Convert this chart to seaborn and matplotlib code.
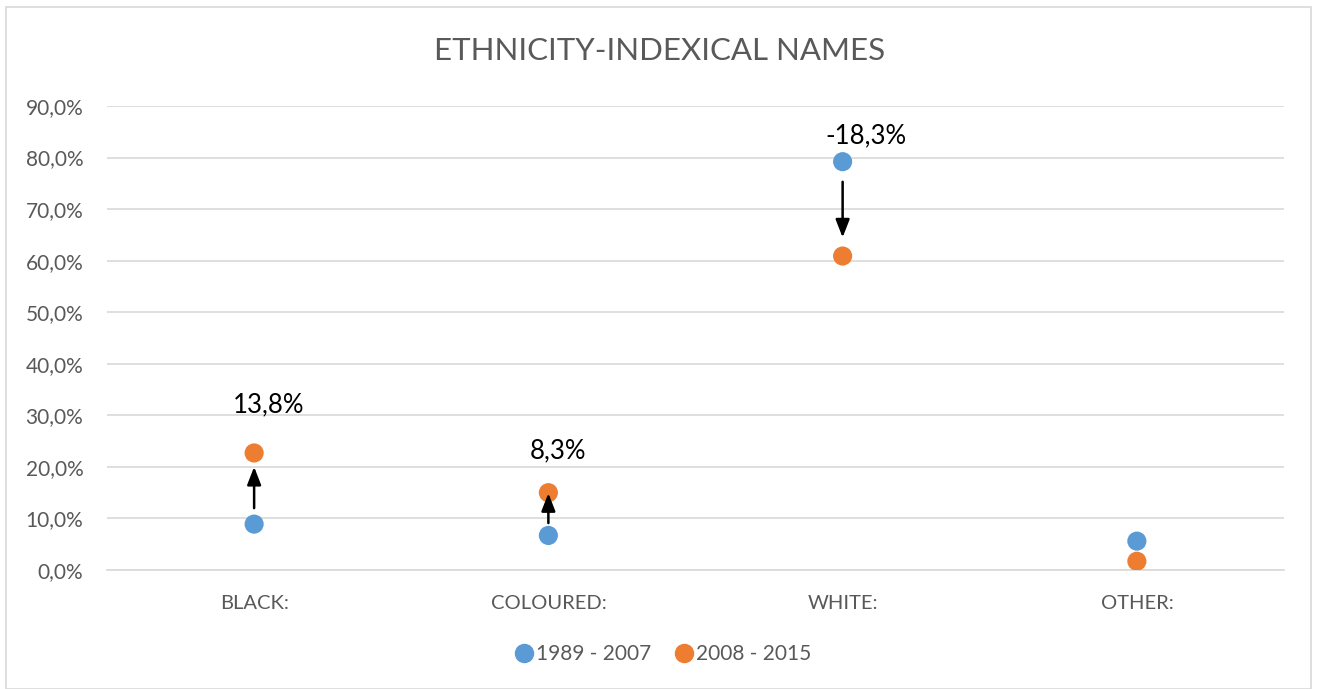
import matplotlib
matplotlib.use("Agg")
import matplotlib.pyplot as plt
import matplotlib.patches as mpatches
from matplotlib.lines import Line2D
import seaborn as sns
import pandas as pd

categories = ["BLACK:", "COLOURED:", "WHITE:", "OTHER:"]
period1_label = "1989 - 2007"
period2_label = "2008 - 2015"
period1 = [8.9, 6.7, 79.2, 5.6]
period2 = [22.7, 15.0, 60.9, 1.7]
change_labels = ["13,8%", "8,3%", "-18,3%", None]
yticks = [0, 10, 20, 30, 40, 50, 60, 70, 80, 90]

# styling: gaps between dots and arrow ends (axis units), label offsets (axis units / pixels)
arrow_gaps = [(3.1, 2.7), (2.4, 0.1), (3.9, 3.6), None]
label_offsets = [7.9, 6.7, 3.6, None]
label_dx_px = [14, 10, 23, None]

BLUE = "#5B9BD5"
ORANGE = "#ED7D31"
GREY = "#595959"

sns.set_theme(style="white")
plt.rcParams["font.family"] = ["Lato", "DejaVu Sans"]

df = pd.DataFrame({
    "cat": categories * 2,
    "value": period1 + period2,
    "period": [period1_label] * 4 + [period2_label] * 4,
})
df["x"] = df["cat"].map({c: i for i, c in enumerate(categories)})

fig = plt.figure(figsize=(13.17, 6.89), dpi=100)
ax = fig.add_axes([107 / 1317, 1 - 570 / 689, (1284 - 107) / 1317, (570 - 106) / 689])

sns.scatterplot(data=df, x="x", y="value", hue="period",
                palette={period1_label: BLUE, period2_label: ORANGE},
                s=190, edgecolor="none", ax=ax, legend=False, zorder=3)

ax.set_xlim(-0.5, 3.5)
ax.set_ylim(0, 90)
ax.set_yticks(yticks)
ax.set_yticklabels([f"{v:.1f}%".replace(".", ",") for v in yticks], color=GREY, fontsize=15)
ax.set_xticks(range(len(categories)))
ax.set_xticklabels(categories, color=GREY, fontsize=14.5)
ax.tick_params(axis="x", pad=18, length=0)
ax.tick_params(axis="y", pad=17, length=0)
ax.grid(axis="y", color="#D9D9D9", linewidth=1.2)
ax.set_axisbelow(True)
for side in ["top", "right", "left"]:
    ax.spines[side].set_visible(False)
ax.spines["bottom"].set_color("#D9D9D9")
ax.spines["bottom"].set_linewidth(1.2)
ax.set_xlabel("")
ax.set_ylabel("")

arrowprops = dict(arrowstyle="-|>,head_length=0.9,head_width=0.35",
                  color="black", lw=1.8, shrinkA=0, shrinkB=0)
for i, (a, b, lab, gap, off, dx) in enumerate(zip(period1, period2, change_labels,
                                                   arrow_gaps, label_offsets, label_dx_px)):
    if lab is None:
        continue
    if b > a:
        tail, head = a + gap[0], b - gap[1]
        ly = b + off
    else:
        tail, head = a - gap[0], b + gap[1]
        ly = a + off
    ax.annotate("", xy=(i, head), xytext=(i, tail), arrowprops=arrowprops, zorder=4)
    ax.annotate(lab, xy=(i, ly), xytext=(dx * 0.72, 0), textcoords="offset points",
                ha="center", va="baseline", fontsize=18.5, color="black")

fig.text(660 / 1317, 1 - 51 / 689, "ETHNICITY-INDEXICAL NAMES", ha="center", va="center",
         fontsize=22.5, color=GREY)

handles = [Line2D([], [], marker="o", linestyle="", markersize=13, color=BLUE, label=period1_label),
           Line2D([], [], marker="o", linestyle="", markersize=13, color=ORANGE, label=period2_label)]
fig.legend(handles=handles, loc="center", bbox_to_anchor=(657 / 1317, 1 - 654 / 689), ncol=2,
           frameon=False, fontsize=15, handletextpad=-0.4, columnspacing=0.55, labelcolor=GREY)

fig.patches.append(mpatches.Rectangle((6 / 1317, 0), 1305 / 1317, 1 - 7 / 689, transform=fig.transFigure,
                                      fill=False, edgecolor="#D9D9D9", linewidth=1.2))

fig.savefig("out.png", dpi=100, facecolor="white")
